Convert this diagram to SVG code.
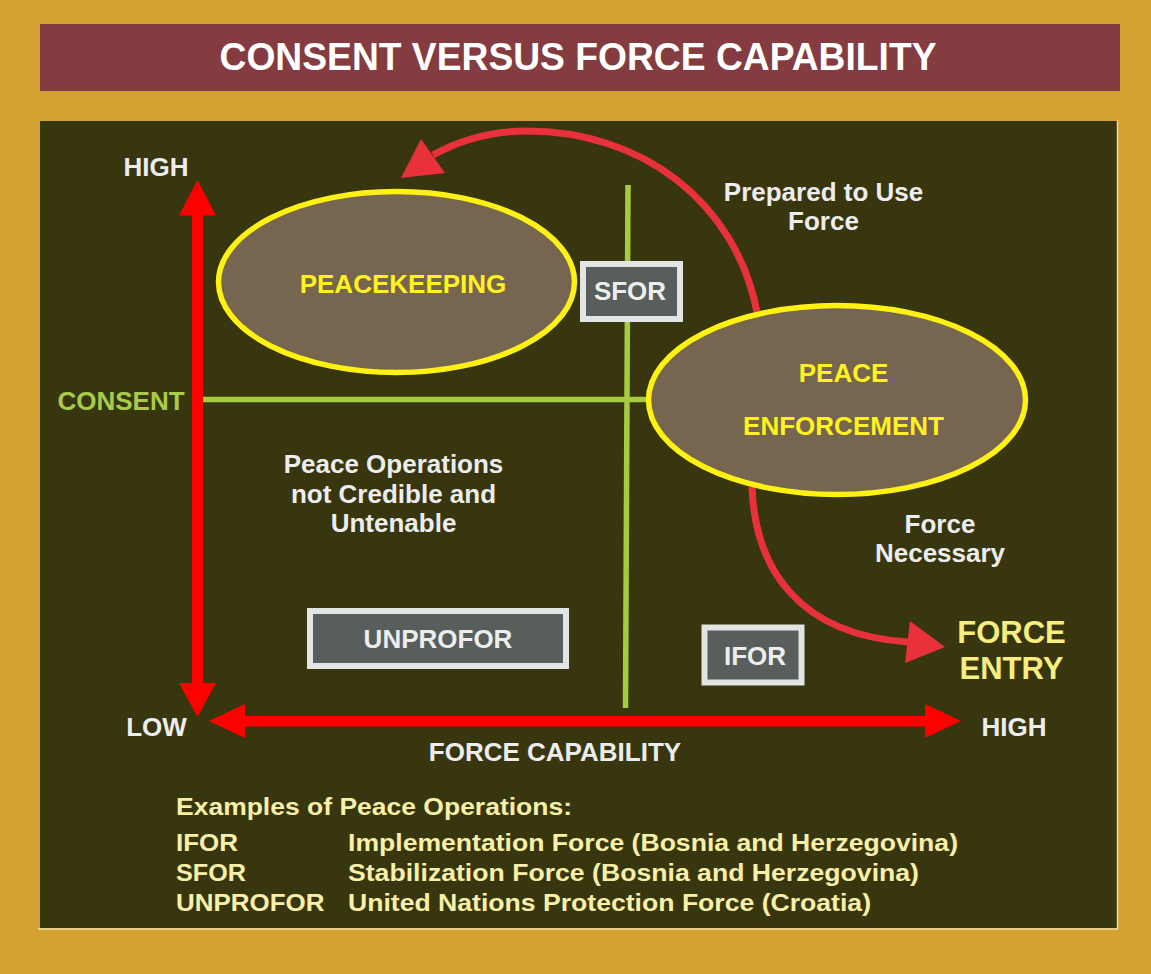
<svg xmlns="http://www.w3.org/2000/svg" width="1151" height="974" viewBox="0 0 1151 974">
<style>
.t{font-family:"Liberation Sans",Arial,sans-serif;font-weight:bold}
.w{fill:#EDEDED}
.y{fill:#FFF21E}
.lg{fill:#F8F0A8;font-size:23px}
.box{fill:#575E5C;stroke:#E3E4E4;stroke-width:6}
.ell{fill:#766650;stroke:#FFF212;stroke-width:5.5}
.grn{stroke:#A4CC3E;stroke-width:5.5;fill:none}
.ax{fill:#FF0000}
.cv{stroke:#E8313A;stroke-width:7;fill:none}
.ah{fill:#E8313A}
</style>
<rect x="0" y="0" width="1151" height="974" fill="#D3A233"/>
<g id="title">
<rect x="40" y="24" width="1080" height="67" fill="#843C41"/>
<text class="t" x="578" y="70" font-size="39" fill="#FFFFFF" text-anchor="middle" textLength="717" lengthAdjust="spacingAndGlyphs">CONSENT VERSUS FORCE CAPABILITY</text>
</g>
<g id="panel">
<rect x="40" y="121" width="1077" height="807" fill="#38360F"/>
<polyline points="38,929 1117.5,929 1117.5,120" fill="none" stroke="#EFD9A3" stroke-width="1.5"/>
</g>
<g id="grid">
<line class="grn" x1="203" y1="399.5" x2="1028" y2="399.5"/>
<line class="grn" x1="628" y1="185" x2="625.5" y2="708"/>
</g>
<g id="axes">
<rect class="ax" x="192" y="213" width="11" height="472"/>
<polygon class="ax" points="197.5,180 179,215.5 216,215.5"/>
<polygon class="ax" points="197.5,717 179,683 216,683"/>
<rect class="ax" x="243" y="716" width="684" height="10.5"/>
<polygon class="ax" points="209,721 245,704 245,738"/>
<polygon class="ax" points="961,721 925,704 925,738"/>
</g>
<g id="connectors">
<path class="cv" d="M 757 312 C 735 200, 640 131, 527 131 C 490 131, 460 140, 433 155"/>
<polygon class="ah" points="401,178 421,139 445,173"/>
<path class="cv" d="M 752 487 C 755 570, 800 635, 908 642"/>
<polygon class="ah" points="945,647 910,621 905,663"/>
</g>
<g id="peacekeeping">
<ellipse class="ell" cx="396.5" cy="282" rx="178" ry="90.5"/>
<text class="t y" x="403" y="293" font-size="26" text-anchor="middle">PEACEKEEPING</text>
</g>
<g id="peace-enforcement">
<ellipse class="ell" cx="837" cy="400" rx="188.5" ry="94.5"/>
<text class="t y" x="843.5" y="382" font-size="26" text-anchor="middle">PEACE</text>
<text class="t y" x="843.5" y="435" font-size="26" text-anchor="middle">ENFORCEMENT</text>
</g>
<g id="sfor">
<rect class="box" x="583" y="264" width="97" height="55"/>
<text class="t w" x="630" y="300" font-size="26" text-anchor="middle">SFOR</text>
</g>
<g id="unprofor">
<rect class="box" x="310" y="611" width="256" height="55"/>
<text class="t w" x="438" y="648" font-size="26" text-anchor="middle">UNPROFOR</text>
</g>
<g id="ifor">
<rect class="box" x="704.5" y="627.5" width="97" height="55"/>
<text class="t w" x="755" y="665" font-size="26" text-anchor="middle">IFOR</text>
</g>
<g id="labels">
<text class="t w" x="156" y="176" font-size="26" text-anchor="middle">HIGH</text>
<text class="t" x="121" y="409.5" font-size="26" text-anchor="middle" fill="#A8CC48">CONSENT</text>
<text class="t w" x="156.5" y="736" font-size="26" text-anchor="middle">LOW</text>
<text class="t w" x="1014" y="736" font-size="26" text-anchor="middle">HIGH</text>
<text class="t w" x="555" y="760.5" font-size="26" text-anchor="middle">FORCE CAPABILITY</text>
<text class="t w" x="823.5" y="201" font-size="26" text-anchor="middle">Prepared to Use</text>
<text class="t w" x="823.5" y="230" font-size="26" text-anchor="middle">Force</text>
<text class="t w" x="393.5" y="472.5" font-size="26" text-anchor="middle">Peace Operations</text>
<text class="t w" x="393.5" y="502.5" font-size="26" text-anchor="middle">not Credible and</text>
<text class="t w" x="393.5" y="531.5" font-size="26" text-anchor="middle">Untenable</text>
<text class="t w" x="940" y="532.5" font-size="26" text-anchor="middle">Force</text>
<text class="t w" x="940" y="561.5" font-size="26" text-anchor="middle">Necessary</text>
<text class="t" x="1011.5" y="643" font-size="31" text-anchor="middle" fill="#F6EE7E">FORCE</text>
<text class="t" x="1011.5" y="678.5" font-size="31" text-anchor="middle" fill="#F6EE7E">ENTRY</text>
</g>
<g id="legend">
<text class="t lg" x="176" y="814.5" textLength="396" lengthAdjust="spacingAndGlyphs">Examples of Peace Operations:</text>
<text class="t lg" x="176" y="851" textLength="62" lengthAdjust="spacingAndGlyphs">IFOR</text>
<text class="t lg" x="348" y="851" textLength="610" lengthAdjust="spacingAndGlyphs">Implementation Force (Bosnia and Herzegovina)</text>
<text class="t lg" x="176" y="881" textLength="70" lengthAdjust="spacingAndGlyphs">SFOR</text>
<text class="t lg" x="348" y="881" textLength="571" lengthAdjust="spacingAndGlyphs">Stabilization Force (Bosnia and Herzegovina)</text>
<text class="t lg" x="176" y="910.5" textLength="148.5" lengthAdjust="spacingAndGlyphs">UNPROFOR</text>
<text class="t lg" x="348" y="910.5" textLength="523" lengthAdjust="spacingAndGlyphs">United Nations Protection Force (Croatia)</text>
</g>
</svg>
